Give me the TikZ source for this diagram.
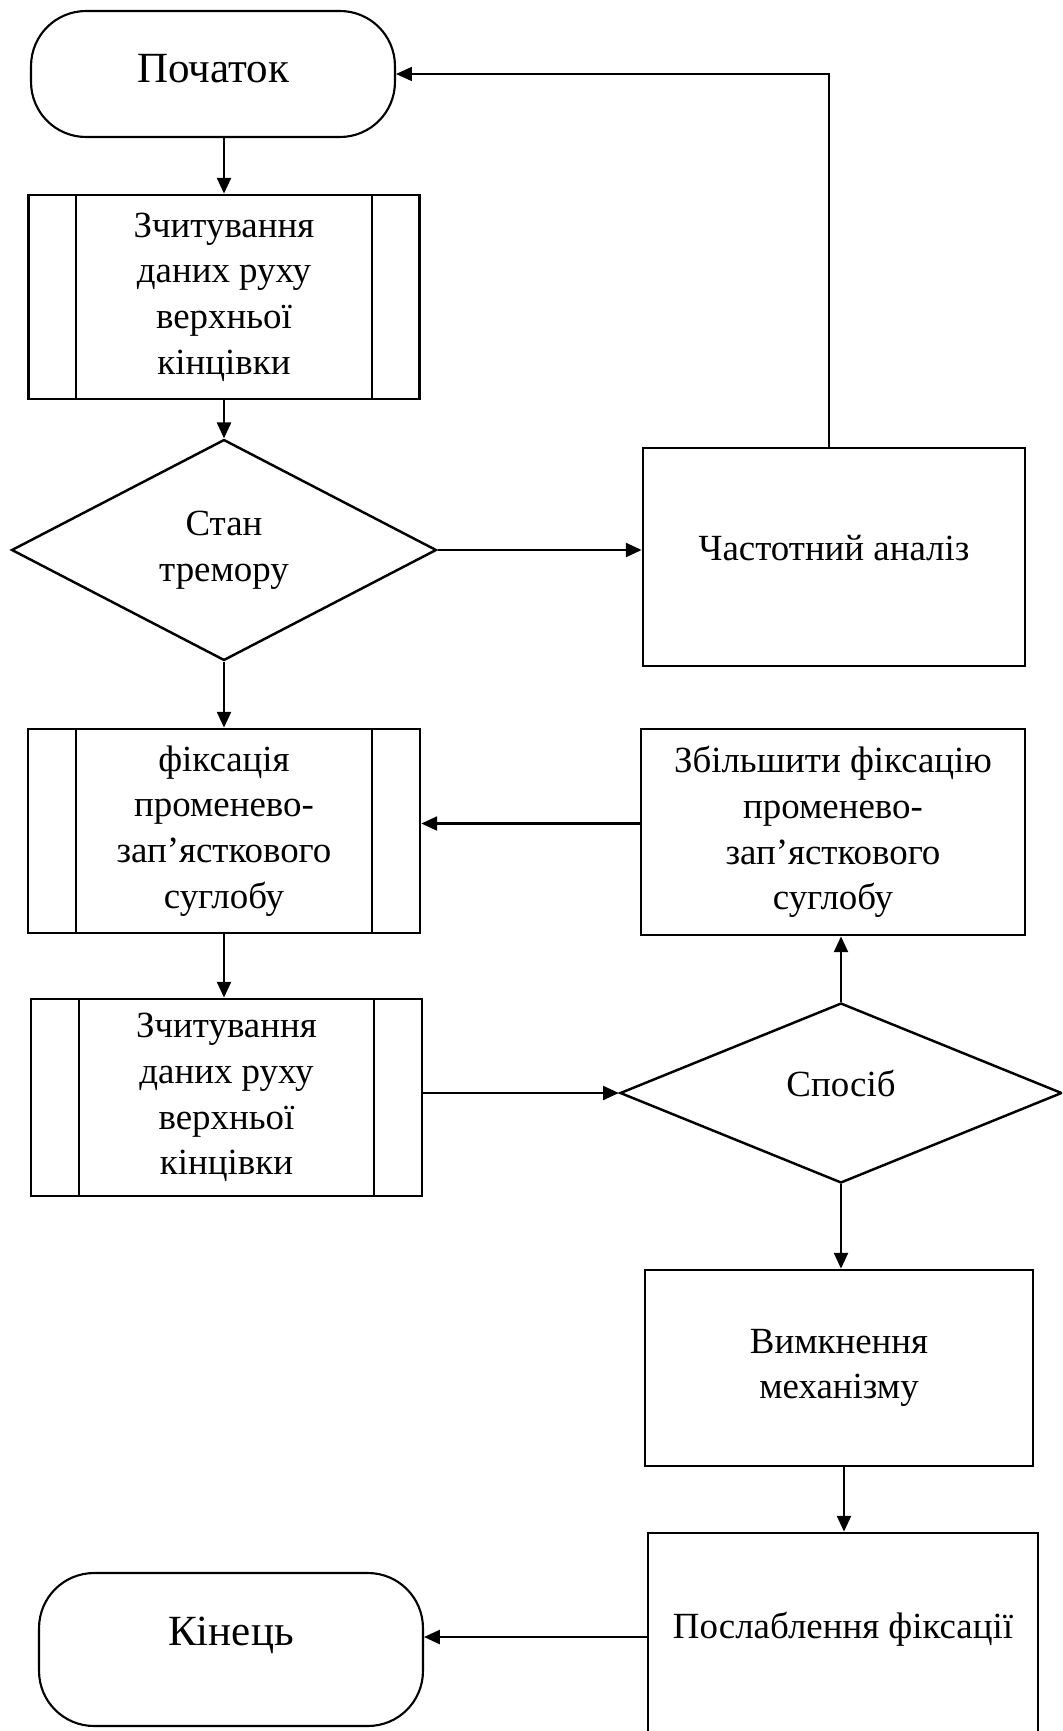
\documentclass[tikz,border=0pt]{standalone}
\usepackage{fontspec}
\setmainfont{Liberation Serif}
\usetikzlibrary{shapes.geometric, arrows.meta}
\tikzset{
  term/.style     = {rectangle, rounded corners=1.1cm, draw, line width=1.2pt, align=center, font=\fontsize{24.5}{29}\selectfont},
  proc/.style     = {rectangle, draw, line width=1.6pt, align=center, font=\fontsize{21}{26}\selectfont},
  subproc/.style  = {proc},
  decide/.style   = {diamond, draw, line width=1.4pt, align=center, inner sep=0pt, font=\fontsize{21}{26}\selectfont},
  sideline/.style = {line width=1.1pt},
  flow/.style     = {-{Triangle[length=9pt,width=8pt]}, line width=1.2pt},
  backflow/.style = {-{Triangle[length=9pt,width=8pt]}, line width=0.6pt},
}

\begin{document}
\begin{tikzpicture}[x=0.02cm, y=-0.02cm]
  \useasboundingbox (0,0) rectangle (1062,1731);
  \clip (0,0) rectangle (1062,1731);

  % left column
  \node[term, minimum width=7.28cm, minimum height=2.52cm] (start) at (213,74) {\raisebox{0.11cm}[\height][\depth]{Початок}};
  \node[subproc, minimum width=7.82cm, minimum height=4.08cm] (read1) at (224,297) {Зчитування\\даних руху\\верхньої\\кінцівки};
  \node[decide, minimum width=8.5cm, minimum height=4.42cm] (tremor) at (224,550) {Стан\\тремору};
  \node[subproc, minimum width=7.84cm, minimum height=4.08cm] (fix) at (224,831) {фіксація\\променево-\\зап’ясткового\\суглобу};
  \node[subproc, minimum width=7.82cm, minimum height=3.94cm] (read2) at (226.5,1097.5) {Зчитування\\даних руху\\верхньої\\кінцівки};
  \node[term, minimum width=7.68cm, minimum height=3.06cm] (end) at (231,1649.5) {\raisebox{0.29cm}[\height][\depth]{Кінець}};

  % right column
  \node[proc, minimum width=7.64cm, minimum height=4.36cm] (freq) at (834,557) {\raisebox{0.18cm}[\height][\depth]{Частотний аналіз}};
  \node[proc, minimum width=7.68cm, minimum height=4.12cm] (boost) at (833,832) {Збільшити фіксацію\\променево-\\зап’ясткового\\суглобу};
  \node[decide, minimum width=8.84cm, minimum height=3.6cm] (method) at (841,1093) {\raisebox{0.2cm}[\height][\depth]{Спосіб}};
  \node[proc, minimum width=7.76cm, minimum height=3.92cm] (off) at (839,1368) {Вимкнення\\механізму};
  \node[proc, minimum width=7.8cm, minimum height=4.6cm] (relax) at (843,1648) {\raisebox{0.38cm}[\height][\depth]{Послаблення фіксації}};

  \foreach \n in {read1, fix, read2}
    \draw[sideline] ([xshift=0.98cm]\n.north west) -- ([xshift=0.98cm]\n.south west)
                    ([xshift=-0.98cm]\n.north east) -- ([xshift=-0.98cm]\n.south east);

  \draw[flow] (read1.north |- start.south) -- (read1.north);
  \draw[flow] (read1.south) -- (tremor.north);
  \draw[flow] (tremor.east) -- (tremor.east -| freq.west);
  \draw[backflow] ([xshift=-0.1cm]freq.north) |- (start.east);
  \draw[flow] (tremor.south) -- (fix.north);
  \draw[flow] ([yshift=0.17cm]boost.west) -- ([yshift=0.17cm]boost.west -| fix.east);
  \draw[flow] (fix.south) -- (fix.south |- read2.north);
  \draw[flow] (read2.east |- method.west) -- (method.west);
  \draw[flow] (method.north) -- (method.north |- boost.south);
  \draw[flow] (method.south) -- (method.south |- off.north);
  \draw[flow] ([xshift=0.1cm]off.south) -- ([xshift=0.1cm]off.south |- relax.north);
  \draw[flow] ([yshift=0.22cm]relax.west) -- ([yshift=0.22cm]relax.west -| end.east);
\end{tikzpicture}
\end{document}
